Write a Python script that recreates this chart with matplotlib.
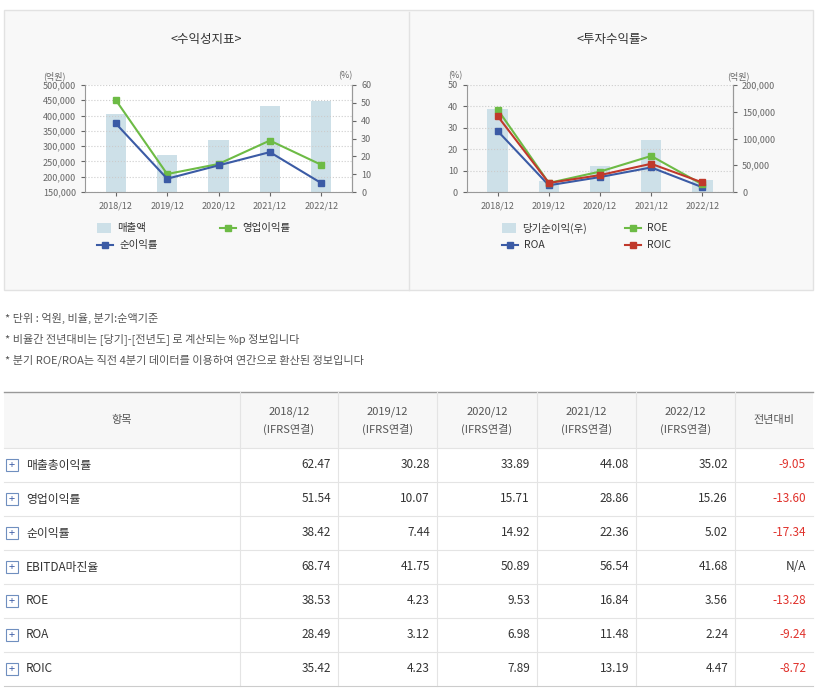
import matplotlib.pyplot as plt
from matplotlib.patches import Rectangle
from matplotlib.lines import Line2D

plt.rcParams['font.family'] = ['Noto Sans CJK KR', 'Noto Sans CJK JP', 'Noto Sans CJK SC', 'DejaVu Sans']

years = ['2018/12', '2019/12', '2020/12', '2021/12', '2022/12']
sales = [404000, 272000, 320000, 431000, 448000]
op_margin = [51.54, 10.07, 15.71, 28.86, 15.26]
net_margin = [38.42, 7.44, 14.92, 22.36, 5.02]
net_income = [155000, 21000, 48000, 97000, 23000]
roe = [38.53, 4.23, 9.53, 16.84, 3.56]
roa = [28.49, 3.12, 6.98, 11.48, 2.24]
roic = [35.42, 4.23, 7.89, 13.19, 4.47]

row_names = ['매출총이익률', '영업이익률', '순이익률', 'EBITDA마진율', 'ROE', 'ROA', 'ROIC']
table_vals = [
    ['62.47', '30.28', '33.89', '44.08', '35.02', '-9.05'],
    ['51.54', '10.07', '15.71', '28.86', '15.26', '-13.60'],
    ['38.42', '7.44', '14.92', '22.36', '5.02', '-17.34'],
    ['68.74', '41.75', '50.89', '56.54', '41.68', 'N/A'],
    ['38.53', '4.23', '9.53', '16.84', '3.56', '-13.28'],
    ['28.49', '3.12', '6.98', '11.48', '2.24', '-9.24'],
    ['35.42', '4.23', '7.89', '13.19', '4.47', '-8.72'],
]
notes = ['* 단위 : 억원, 비율, 분기:순액기준',
         '* 비율간 전년대비는 [당기]-[전년도] 로 계산되는 %p 정보입니다',
         '* 분기 ROE/ROA는 직전 4분기 데이터를 이용하여 연간으로 환산된 정보입니다']

W, H = 827, 694
fig = plt.figure(figsize=(W / 100, H / 100), dpi=100)

def px(x, y):
    return x / W, 1 - y / H

# top gray panel (behind axes)
fig.patches.append(Rectangle(px(4, 290), 809 / W, 280 / H, transform=fig.transFigure,
                             facecolor='#f8f8f8', edgecolor='#e2e2e2', lw=1, zorder=-5))
fig.add_artist(Line2D([px(409, 0)[0]] * 2, [px(0, 12)[1], px(0, 290)[1]], color='#e2e2e2', lw=1,
                      zorder=-4))

GREEN, BLUE, RED, BAR = '#6dbb45', '#3b5ba5', '#c0392b', '#cde0e8'
GRAY = '#666666'

def make_axes(x0, x1, y0, y1):
    ax = fig.add_axes([x0 / W, 1 - y1 / H, (x1 - x0) / W, (y1 - y0) / H])
    ax.set_facecolor('white')
    ax.spines['top'].set_visible(False)
    for s in ['left', 'right', 'bottom']:
        ax.spines[s].set_color('#999999')
    return ax

def style(ax):
    ax.tick_params(labelsize=6.5, colors=GRAY, length=3)

xs = range(len(years))

# left chart
ax1 = make_axes(85, 352, 85, 192)
ax1.bar(xs, sales, width=0.4, color=BAR, zorder=1)
ax1.set_ylim(150000, 500000)
ax1.set_yticks(range(150000, 500001, 50000))
ax1.set_yticklabels([f'{v:,}' for v in range(150000, 500001, 50000)])
ax1.set_xlim(-0.6, 4.6)
ax1.set_xticks(list(xs))
ax1.set_xticklabels(years)
ax1.grid(axis='y', linestyle=':', color='#cccccc')
style(ax1)
ax1r = ax1.twinx()
ax1r.plot(xs, op_margin, color=GREEN, marker='s', ms=5, lw=1.5)
ax1r.plot(xs, net_margin, color=BLUE, marker='s', ms=5, lw=1.5)
ax1r.set_ylim(0, 60)
ax1r.set_yticks(range(0, 61, 10))
for s in ['top', 'left', 'bottom']:
    ax1r.spines[s].set_visible(False)
ax1r.spines['right'].set_color('#999999')
style(ax1r)
fig.text(*px(206, 40), '<수익성지표>', ha='center', va='center', fontsize=9, color='#333333')
fig.text(*px(43, 76), '(억원)', fontsize=6.5, color=GRAY, va='center')
fig.text(*px(338, 76), '(%)', fontsize=6.5, color=GRAY, va='center')

# right chart
ax2 = make_axes(467, 733, 85, 192)
ax2.set_ylim(0, 50)
ax2.set_yticks(range(0, 51, 10))
ax2.set_xlim(-0.6, 4.6)
ax2.set_xticks(list(xs))
ax2.set_xticklabels(years)
ax2.grid(axis='y', linestyle=':', color='#cccccc')
style(ax2)
ax2r = ax2.twinx()
ax2r.bar(xs, net_income, width=0.4, color=BAR, zorder=1)
ax2r.set_ylim(0, 200000)
ax2r.set_yticks(range(0, 200001, 50000))
ax2r.set_yticklabels([f'{v:,}' for v in range(0, 200001, 50000)])
for s in ['top', 'left', 'bottom']:
    ax2r.spines[s].set_visible(False)
ax2r.spines['right'].set_color('#999999')
style(ax2r)
ax2r.set_facecolor('white')
ax2.set_zorder(ax2r.get_zorder() + 1)
ax2.patch.set_visible(False)
ax2.plot(xs, roa, color=BLUE, marker='s', ms=5, lw=1.5)
ax2.plot(xs, roe, color=GREEN, marker='s', ms=5, lw=1.5)
ax2.plot(xs, roic, color=RED, marker='s', ms=5, lw=1.5)
fig.text(*px(612, 40), '<투자수익률>', ha='center', va='center', fontsize=9, color='#333333')
fig.text(*px(448, 76), '(%)', fontsize=6.5, color=GRAY, va='center')
fig.text(*px(727, 76), '(억원)', fontsize=6.5, color=GRAY, va='center')

# legends
def leg_bar(x, y, label):
    fig.patches.append(Rectangle(px(x, y + 5), 14 / W, 10 / H, transform=fig.transFigure,
                                 facecolor=BAR, edgecolor='none'))
    fig.text(*px(x + 20, y), label, fontsize=7.5, color='#333333', va='center')

def leg_line(x, y, color, label):
    fig.add_artist(Line2D([px(x, 0)[0], px(x + 16, 0)[0]], [px(0, y)[1]] * 2, color=color,
                          lw=1.5, transform=fig.transFigure))
    fig.add_artist(Line2D([px(x + 8, 0)[0]], [px(0, y)[1]], color=color, marker='s', ms=5,
                          transform=fig.transFigure))
    fig.text(*px(x + 22, y), label, fontsize=7.5, color='#333333', va='center')

leg_bar(97, 228, '매출액')
leg_line(220, 228, GREEN, '영업이익률')
leg_line(97, 245, BLUE, '순이익률')
leg_bar(502, 228, '당기순이익(우)')
leg_line(625, 228, GREEN, 'ROE')
leg_line(502, 245, BLUE, 'ROA')
leg_line(625, 245, RED, 'ROIC')

# notes
for i, n in enumerate(notes):
    fig.text(*px(5, 318 + i * 21), n, fontsize=8, color='#555555', va='center')

# table
cols = [4, 240, 338, 437, 537, 636, 735, 813]
top, head_bot, row_h = 392, 448, 34
fig.patches.append(Rectangle(px(4, head_bot), 809 / W, (head_bot - top) / H, transform=fig.transFigure,
                             facecolor='#f7f7f7', edgecolor='none', zorder=-5))
fig.add_artist(Line2D([px(4, 0)[0], px(813, 0)[0]], [px(0, top)[1]] * 2, color='#999999', lw=1))
for c in cols[1:-1]:
    fig.add_artist(Line2D([px(c, 0)[0]] * 2, [px(0, top)[1], px(0, head_bot + 7 * row_h)[1]],
                          color='#e4e4e4', lw=0.8))
fig.text(*px(122, 420), '항목', ha='center', va='center', fontsize=8, color='#555555')
for j, y in enumerate(years):
    cx = (cols[j + 1] + cols[j + 2]) / 2
    fig.text(*px(cx, 412), y, ha='center', va='center', fontsize=8, color='#555555')
    fig.text(*px(cx, 429), '(IFRS연결)', ha='center', va='center', fontsize=8, color='#555555')
fig.text(*px(774, 420), '전년대비', ha='center', va='center', fontsize=8, color='#555555')
for i, name in enumerate(row_names):
    y0 = head_bot + i * row_h
    yc = y0 + row_h / 2
    fig.add_artist(Line2D([px(4, 0)[0], px(813, 0)[0]], [px(0, y0)[1]] * 2, color='#e4e4e4', lw=0.8))
    fig.patches.append(Rectangle(px(6, yc + 6), 12 / W, 12 / H, transform=fig.transFigure,
                                 facecolor='white', edgecolor='#6f8fbf', lw=0.8))
    fig.text(*px(12, yc), '+', ha='center', va='center', fontsize=8, color='#3b5ba5')
    fig.text(*px(26, yc), name, va='center', fontsize=8.5, color='#333333')
    for j, v in enumerate(table_vals[i]):
        color = '#e0312b' if v.startswith('-') else '#333333'
        fig.text(*px(cols[j + 2] - 7, yc), v, ha='right', va='center', fontsize=8.5, color=color)
fig.add_artist(Line2D([px(4, 0)[0], px(813, 0)[0]], [px(0, head_bot + 7 * row_h)[1]] * 2,
                      color='#cccccc', lw=0.8))

fig.savefig('out.png', dpi=100)
